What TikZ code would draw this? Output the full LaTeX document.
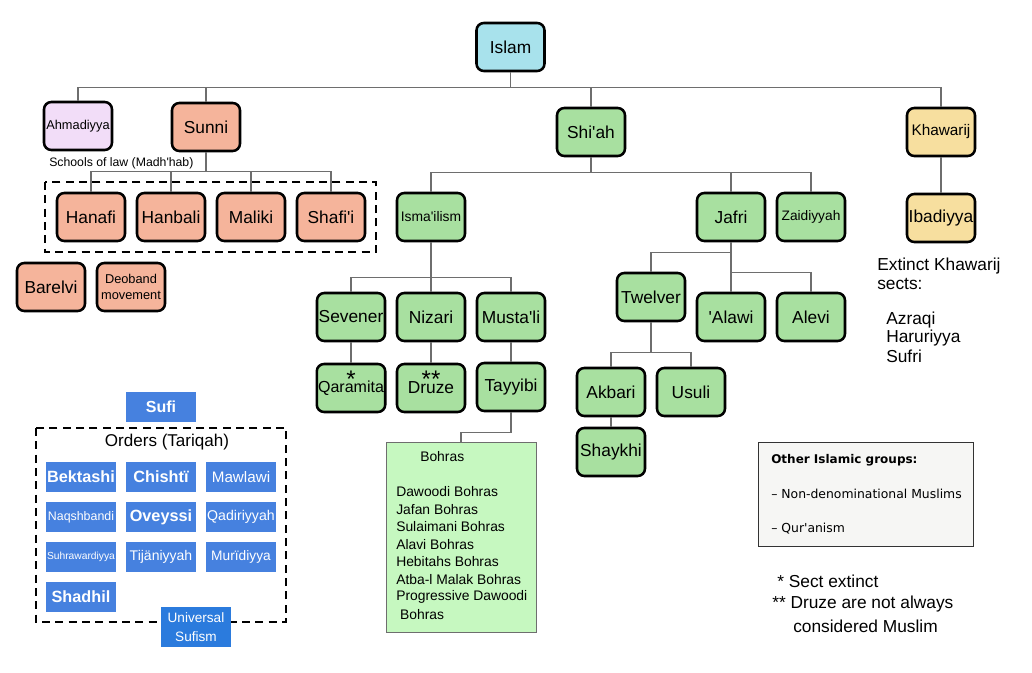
\documentclass[tikz,border=0pt]{standalone}
\usepackage{fontspec}
\setmainfont{Liberation Sans}[Ligatures=TeXOff]
\newfontfamily\dejavu{DejaVu Sans}[Ligatures=TeXOff]
\definecolor{islamcol}{HTML}{A8E2EC}
\definecolor{sunnicol}{HTML}{F5B49B}
\definecolor{ahmcol}{HTML}{F2DDF8}
\definecolor{shiacol}{HTML}{A8E0A0}
\definecolor{khawcol}{HTML}{F7DF9F}
\definecolor{bohcol}{HTML}{C6F8C0}
\definecolor{othercol}{HTML}{F6F6F4}
\definecolor{linecol}{HTML}{6E6E6E}
\definecolor{sufiblue}{HTML}{4681DF}
\definecolor{univblue}{HTML}{2B7BDD}
\begin{document}
\begin{tikzpicture}[x=0.75pt,y=-0.75pt]
\tikzstyle{box} = [draw, line width=1.9pt, rounded corners=5.5pt, minimum width=51pt, minimum height=36pt, inner sep=1pt, font=\fontsize{13}{15}\selectfont];
\tikzstyle{small} = [font=\fontsize{9.6}{11.5}\selectfont];
\tikzstyle{conn} = [draw=linecol, line width=1.1pt];
\tikzstyle{dashbox} = [draw, line width=1.9pt, dash pattern=on 6pt off 4pt];
\tikzstyle{sufibox} = [fill=sufiblue, text=white, minimum width=52.5pt, minimum height=22.5pt, inner sep=0pt];
\tikzstyle{note} = [anchor=west, inner sep=0pt, font=\fontsize{13}{15}\selectfont];
\useasboundingbox (0,0) rectangle (1032,672);

% top of the tree
\node[box, fill=islamcol] (islam) at (510.5,47) {Islam};
\node[box, small, fill=ahmcol] (ahmadiyya) at (78,126) {Ahmadiyya};
\node[box, fill=sunnicol] (sunni) at (206,127) {Sunni};
\node[box, fill=shiacol] (shiah) at (591,132) {Shi'ah};
\node[box, fill=khawcol, font=\fontsize{11.5}{13}\selectfont] (khawarij) at (941,132) {Khawarij};
\foreach \c in {ahmadiyya,sunni,shiah,khawarij}
	\draw[conn] (islam.south) -- ++(0,15) -| (\c.north);

% Sunni
\node[anchor=west, inner sep=0pt, font=\fontsize{9.2}{11}\selectfont] (madhhab) at (49,163) {Schools of law (Madh'hab)};
\draw[dashbox] (45,182) rectangle (376,252);
\foreach \x/\n/\t in {91/hanafi/Hanafi,171/hanbali/Hanbali,251/maliki/Maliki,331/shafii/Shafi'i}
	\node[box, fill=sunnicol] (\n) at (\x,217) {\t};
\foreach \c in {hanafi,hanbali,maliki,shafii}
	\draw[conn] (sunni.south) -- ++(0,19) -| (\c.north);
\node[box, fill=sunnicol] (barelvi) at (51,287) {Barelvi};
\node[box, small, fill=sunnicol, align=center] (deoband) at (131,287) {Deoband\\movement};

% Shi'ah
\node[box, fill=shiacol, font=\fontsize{10.4}{12}\selectfont] (ismailism) at (431,217) {Isma'ilism};
\node[box, fill=shiacol] (jafri) at (731,217) {Jafri};
\node[box, fill=shiacol, font=\fontsize{10.3}{12}\selectfont] (zaidiyyah) at (811,217) {Zaidiyyah};
\foreach \c in {ismailism,jafri,zaidiyyah}
	\draw[conn] (shiah.south) -- ++(0,15) -| (\c.north);

\foreach \x/\n/\t in {351/sevener/Sevener,431/nizari/Nizari,511/mustali/Musta'li}
	\node[box, fill=shiacol] (\n) at (\x,317) {\t};
\foreach \c in {sevener,nizari,mustali}
	\draw[conn] (ismailism.south) -- ++(0,35) -| (\c.north);
\node[box, fill=shiacol, font=\fontsize{12}{14}\selectfont] (qaramita) at (351,388) {Qaramita};
\node[box, fill=shiacol] (druze) at (431,388) {Druze};
\node[box, fill=shiacol] (tayyibi) at (511,387) {Tayyibi};
\node[font=\fontsize{18}{20}\selectfont, inner sep=0pt] (star1) at (351,379) {*};
\node[font=\fontsize{18}{20}\selectfont, inner sep=0pt] (star2) at (431,379) {**};

\node[box, fill=shiacol] (twelver) at (651,297) {Twelver};
\node[box, fill=shiacol] (alawi) at (731,317) {'Alawi};
\node[box, fill=shiacol] (alevi) at (811,317) {Alevi};
\draw[conn] (jafri.south) -- ++(0,10) -| (twelver.north);
\draw[conn] (jafri.south) -- ++(0,30) -| (alevi.north);
\node[box, fill=shiacol] (akbari) at (611,392) {Akbari};
\node[box, fill=shiacol] (usuli) at (691,392) {Usuli};
\node[box, fill=shiacol] (shaykhi) at (611,452) {Shaykhi};
\foreach \c in {akbari,usuli}
	\draw[conn] (twelver.south) -- ++(0,30) -| (\c.north);

% Khawarij
\node[box, fill=khawcol] (ibadiyya) at (941,218) {Ibadiyya};
\foreach \a/\b in {sevener/qaramita,nizari/druze,mustali/tayyibi,akbari/shaykhi,jafri/alawi,khawarij/ibadiyya}
	\draw[conn] (\a) -- (\b);
\node[note] (extinct1) at (877,266) {Extinct Khawarij};
\node[note] (extinct2) at (877,284) {sects:};
\foreach \t [count=\i] in {Azraqi,Haruriyya,Sufri}
	\node[note] (sect-\i) at (886,302+18*\i) {\t};

% Bohras
\node[draw=linecol, line width=0.75pt, fill=bohcol, minimum width=112.5pt, minimum height=142.5pt] (bohras) at (461,537) {};
\draw[conn] (tayyibi.south) -- ++(0,20) -| (bohras.north);
\node[anchor=west, inner sep=0pt, font=\fontsize{10.4}{12}\selectfont] (bohras-t) at (420,457) {Bohras};
\foreach \t [count=\i] in {Dawoodi Bohras,Jafan Bohras,Sulaimani Bohras,Alavi Bohras,Hebitahs Bohras,Atba-l Malak Bohras,Progressive Dawoodi,\ Bohras}
	\node[anchor=west, inner sep=0pt, font=\fontsize{10.4}{12}\selectfont] (bohra-\i) at (396,474.5+17.5*\i) {\t};

% other groups and notes
\node[draw=black!80, line width=0.75pt, fill=othercol, minimum width=161.25pt, minimum height=78pt] (others) at (865.5,494) {};
\node[anchor=west, inner sep=0pt, font=\dejavu\bfseries\fontsize{9}{11}\selectfont] (others-t) at (771,460) {Other Islamic groups:};
\node[anchor=west, inner sep=0pt, font=\dejavu\fontsize{9.3}{11}\selectfont] (others-1) at (771,494) {– Non-denominational Muslims};
\node[anchor=west, inner sep=0pt, font=\dejavu\fontsize{9.3}{11}\selectfont] (others-2) at (771,529) {– Qur'anism};
\node[note] (foot1) at (777,581) {* Sect extinct};
\node[note] (foot2) at (772,604) {** Druze are not always};
\node[note] (foot3) at (793,626) {considered Muslim};

% Sufi
\node[sufibox, font=\bfseries\fontsize{12}{14}\selectfont] (sufi) at (161,407) {Sufi};
\draw[dashbox] (36,428) rectangle (286,622);
\node[font=\fontsize{12.8}{15}\selectfont] (orders) at (167,442) {Orders (Tariqah)};
\foreach \x/\y/\n/\s/\t in {81/477/bektashi/12.2/{\bfseries Bektashi},161/477/chishti/12.2/{\bfseries Chishtï},241/477/mawlawi/11.4/Mawlawi,
	81/517/naqshbandi/9.3/Naqshbandi,161/517/oveyssi/12.2/{\bfseries Oveyssi},241/517/qadiriyyah/10.6/Qadiriyyah,
	81/557/suhrawardiyya/7.7/Suhrawardiyya,161/557/tijaniyyah/10.5/Tijäniyyah,241/557/muridiyya/10.3/Murïdiyya,
	81/597/shadhil/12.2/{\bfseries Shadhil}}
	\node[sufibox] (\n) at (\x,\y) {\fontsize{\s}{14}\selectfont\t};
\node[sufibox, fill=univblue, minimum height=30pt, align=center, font=\fontsize{10.2}{14.2}\selectfont] (universal) at (196,627) {Universal\\Sufism};
\end{tikzpicture}
\end{document}
